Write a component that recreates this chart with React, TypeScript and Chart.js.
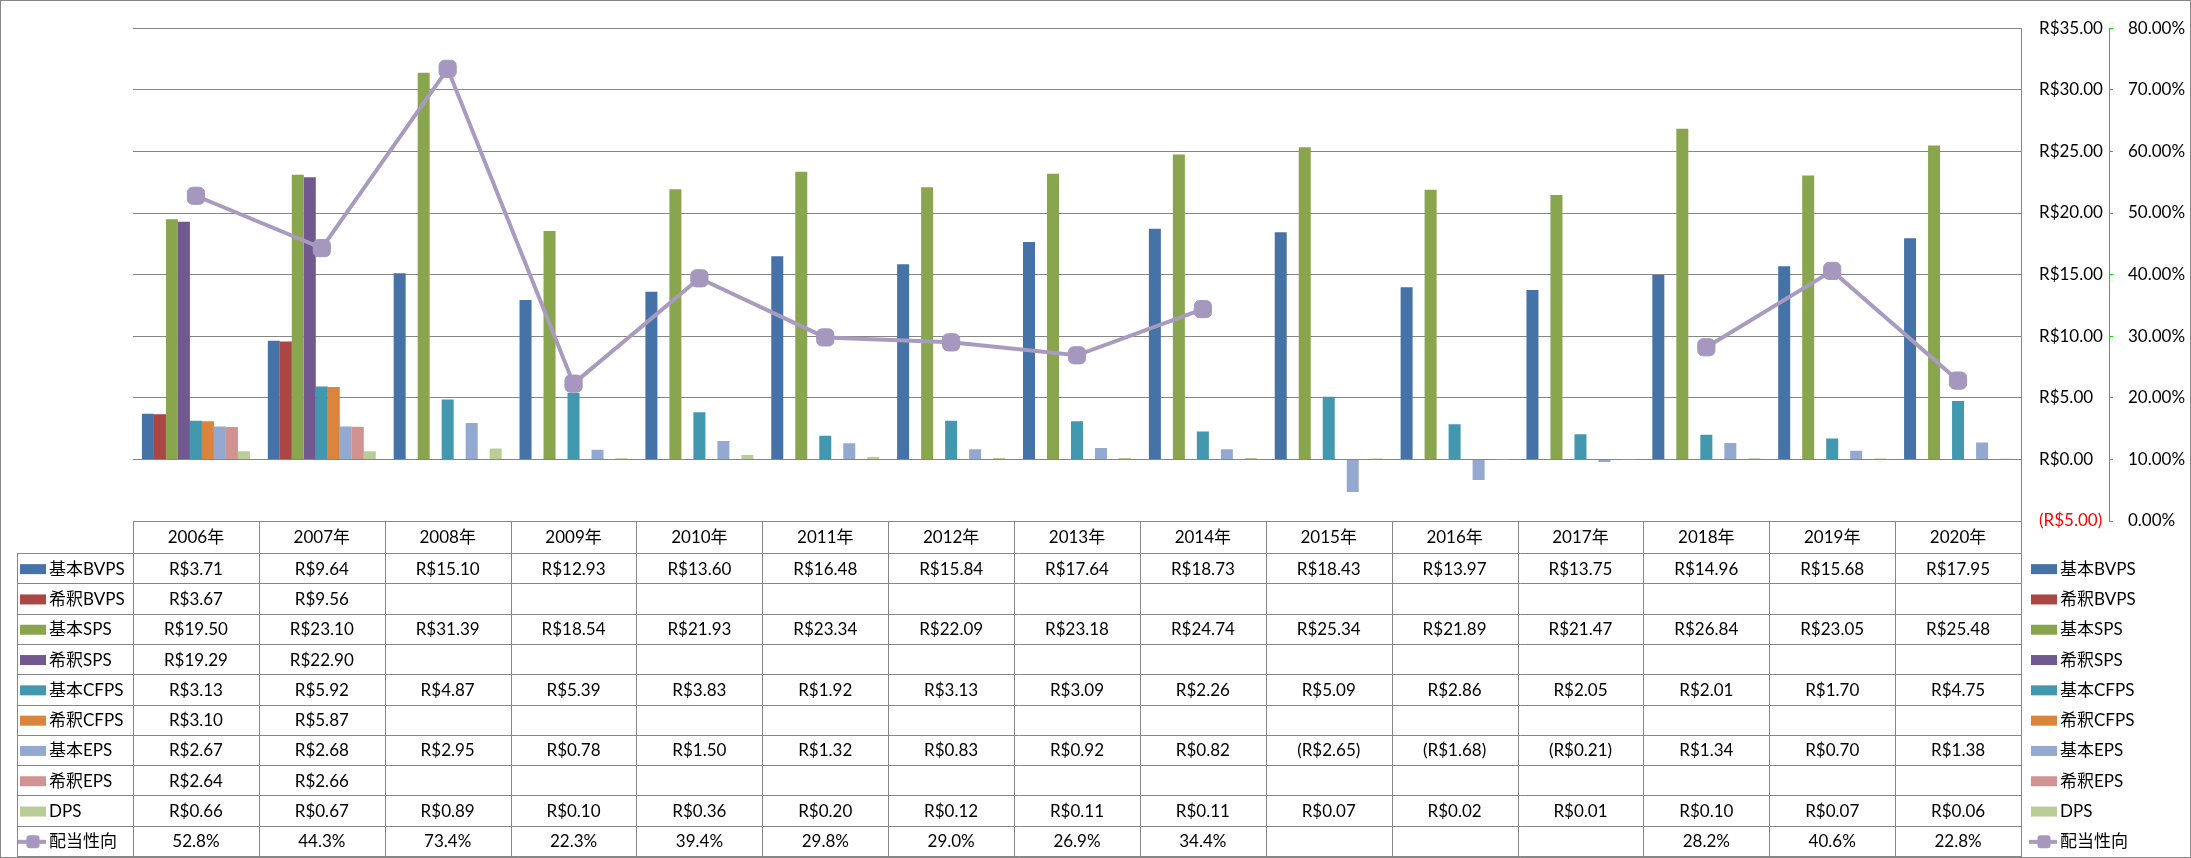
import React, { useEffect, useRef } from "react";
import { Chart, registerables } from "chart.js";

Chart.register(...registerables);

// ---------- data ----------
const categories = ["2006年", "2007年", "2008年", "2009年", "2010年", "2011年", "2012年", "2013年", "2014年", "2015年", "2016年", "2017年", "2018年", "2019年", "2020年"];
const basicBVPS = [3.71, 9.64, 15.10, 12.93, 13.60, 16.48, 15.84, 17.64, 18.73, 18.43, 13.97, 13.75, 14.96, 15.68, 17.95];
const dilutedBVPS = [3.67, 9.56, null, null, null, null, null, null, null, null, null, null, null, null, null];
const basicSPS = [19.50, 23.10, 31.39, 18.54, 21.93, 23.34, 22.09, 23.18, 24.74, 25.34, 21.89, 21.47, 26.84, 23.05, 25.48];
const dilutedSPS = [19.29, 22.90, null, null, null, null, null, null, null, null, null, null, null, null, null];
const basicCFPS = [3.13, 5.92, 4.87, 5.39, 3.83, 1.92, 3.13, 3.09, 2.26, 5.09, 2.86, 2.05, 2.01, 1.70, 4.75];
const dilutedCFPS = [3.10, 5.87, null, null, null, null, null, null, null, null, null, null, null, null, null];
const basicEPS = [2.67, 2.68, 2.95, 0.78, 1.50, 1.32, 0.83, 0.92, 0.82, -2.65, -1.68, -0.21, 1.34, 0.70, 1.38];
const dilutedEPS = [2.64, 2.66, null, null, null, null, null, null, null, null, null, null, null, null, null];
const dps = [0.66, 0.67, 0.89, 0.10, 0.36, 0.20, 0.12, 0.11, 0.11, 0.07, 0.02, 0.01, 0.10, 0.07, 0.06];
const payoutRatio = [52.8, 44.3, 73.4, 22.3, 39.4, 29.8, 29.0, 26.9, 34.4, null, null, null, 28.2, 40.6, 22.8];

const barSeries = [
  { label: "基本BVPS", color: "#4572A7", values: basicBVPS },
  { label: "希釈BVPS", color: "#AA4643", values: dilutedBVPS },
  { label: "基本SPS", color: "#89A54E", values: basicSPS },
  { label: "希釈SPS", color: "#71588F", values: dilutedSPS },
  { label: "基本CFPS", color: "#4198AF", values: basicCFPS },
  { label: "希釈CFPS", color: "#DB843D", values: dilutedCFPS },
  { label: "基本EPS", color: "#93A9CF", values: basicEPS },
  { label: "希釈EPS", color: "#D19392", values: dilutedEPS },
  { label: "DPS", color: "#B9CD96", values: dps },
];
const lineLabel = "配当性向";
const lineColor = "#A99BBF";
const markerColor = "#A597BE";

// ---------- styles ----------
const W = 2191;
const H = 858;
const FONT_FAMILY = "Lato, 'Noto Sans CJK JP', sans-serif";
const FONT = `17px ${FONT_FAMILY}`;
const GRID = "#868686";

function money(v: number) {
  return v < 0 ? `(R$${Math.abs(v).toFixed(2)})` : `R$${v.toFixed(2)}`;
}
function pct1(v: number) {
  return `${v.toFixed(1)}%`;
}

const tablePlugin = {
  id: "dataTable",
  afterDraw(chart: any) {
    const ctx = chart.ctx as CanvasRenderingContext2D;
    const { left, right, bottom } = chart.chartArea;
    const n = categories.length;
    const colW = (right - left) / n;
    const headerTop = Math.round(bottom);
    const headerBottom = 553;
    const tableBottom = 856;
    const tableLeft = 17;

    const rows: { label: string; color: string; values: (number | null)[]; isLine: boolean }[] = [
      ...barSeries.map((s) => ({ label: s.label, color: s.color, values: s.values, isLine: false })),
      { label: lineLabel, color: lineColor, values: payoutRatio, isLine: true },
    ];
    const rowH = (tableBottom - headerBottom) / rows.length;

    ctx.save();
    ctx.strokeStyle = GRID;
    ctx.lineWidth = 1;
    const hline = (x1: number, x2: number, y: number) => {
      const yy = Math.round(y) + 0.5;
      ctx.beginPath();
      ctx.moveTo(x1, yy);
      ctx.lineTo(x2, yy);
      ctx.stroke();
    };
    const vline = (x: number, y1: number, y2: number) => {
      const xx = Math.round(x) + 0.5;
      ctx.beginPath();
      ctx.moveTo(xx, y1);
      ctx.lineTo(xx, y2);
      ctx.stroke();
    };

    hline(left, right + 1, headerTop);
    hline(tableLeft, right + 1, headerBottom);
    for (let i = 1; i <= rows.length; i++) hline(tableLeft, right + 1, headerBottom + i * rowH);
    vline(tableLeft, headerBottom, tableBottom + 1);
    for (let i = 0; i <= n; i++) vline(left + i * colW, headerTop, tableBottom + 1);

    ctx.font = FONT;
    ctx.fillStyle = "#000";
    ctx.textBaseline = "middle";
    ctx.textAlign = "center";
    const headerMid = (headerTop + headerBottom) / 2 + 1;
    categories.forEach((c, i) => ctx.fillText(c, left + (i + 0.5) * colW, headerMid));

    const drawKey = (x: number, y: number, r: (typeof rows)[number]) => {
      if (r.isLine) {
        ctx.strokeStyle = r.color;
        ctx.lineWidth = 4;
        ctx.beginPath();
        ctx.moveTo(x - 2, y);
        ctx.lineTo(x + 26, y);
        ctx.stroke();
        ctx.fillStyle = markerColor;
        const s = 13;
        ctx.beginPath();
        (ctx as any).roundRect(x + 13 - s / 2, y - s / 2, s, s, 3);
        ctx.fill();
      } else {
        ctx.fillStyle = r.color;
        ctx.fillRect(x, y - 5, 26, 10);
      }
    };

    rows.forEach((r, ri) => {
      const y = headerBottom + (ri + 0.5) * rowH + 1;
      // left legend key
      drawKey(20, y, r);
      ctx.fillStyle = "#000";
      ctx.textAlign = "left";
      ctx.fillText(r.label, 49, y);
      // right legend key
      drawKey(2031, y, r);
      ctx.fillStyle = "#000";
      ctx.textAlign = "left";
      ctx.fillText(r.label, 2060, y);
      // values
      ctx.textAlign = "center";
      r.values.forEach((v, i) => {
        if (v === null || v === undefined) return;
        const txt = r.isLine ? pct1(v) : money(v);
        ctx.fillText(txt, left + (i + 0.5) * colW, y);
      });
    });

    // outer chart border
    ctx.strokeStyle = GRID;
    ctx.lineWidth = 1;
    ctx.strokeRect(0.5, 0.5, W - 1, H - 1);
    ctx.restore();
  },
};

export default function App() {
  const canvasRef = useRef<HTMLCanvasElement | null>(null);

  useEffect(() => {
    const canvas = canvasRef.current;
    if (!canvas) return;
    const chart = new Chart(canvas, {
      type: "bar",
      data: {
        labels: categories,
        datasets: [
          ...barSeries.map((s) => ({
            type: "bar" as const,
            label: s.label,
            data: s.values,
            backgroundColor: s.color,
            borderWidth: 0,
            yAxisID: "y",
            order: 1,
            barPercentage: 1,
            categoryPercentage: 0.858,
          })),
          {
            type: "line" as const,
            label: lineLabel,
            data: payoutRatio,
            yAxisID: "y1",
            borderColor: lineColor,
            borderWidth: 4,
            pointStyle: "rectRounded",
            pointRadius: 10,
            pointBackgroundColor: markerColor,
            pointBorderColor: markerColor,
            pointBorderWidth: 1,
            spanGaps: false,
            order: 0,
          } as any,
        ],
      },
      options: {
        responsive: false,
        animation: false,
        devicePixelRatio: 1,
        layout: { padding: { left: 133, top: 13, right: 0, bottom: H - 521 } },
        plugins: {
          legend: { display: false },
          tooltip: { enabled: false },
        },
        scales: {
          x: { display: false, grid: { display: false } },
          y: {
            position: "right",
            min: -5,
            max: 35,
            ticks: {
              stepSize: 5,
              padding: 18,
              font: { family: FONT_FAMILY, size: 17 },
              color: (c: any) => (c.tick && c.tick.value < 0 ? "#FF0000" : "#000000"),
              callback: (v: any) => money(Number(v)),
            },
            grid: { color: GRID, lineWidth: 1, drawTicks: false },
            border: { display: true, color: GRID, width: 1 },
            afterFit: (s: any) => {
              s.width = 88;
            },
          },
          y1: {
            position: "right",
            min: 0,
            max: 80,
            ticks: {
              stepSize: 10,
              padding: 15,
              font: { family: FONT_FAMILY, size: 17 },
              color: "#000000",
              callback: (v: any) => `${Number(v).toFixed(2)}%`,
            },
            grid: { drawOnChartArea: false, drawTicks: true, tickLength: 4, color: "#00DD00" },
            border: { display: true, color: "#00DD00", width: 1, dash: [3, 3] },
            afterFit: (s: any) => {
              s.width = 82;
            },
          },
        },
      } as any,
      plugins: [tablePlugin],
    });
    return () => chart.destroy();
  }, []);

  return (
    <div style={{ position: "absolute", left: 0, top: 0, width: W, height: H, background: "#fff" }}>
      <canvas ref={canvasRef} width={W} height={H} style={{ display: "block", width: W, height: H }} />
    </div>
  );
}
